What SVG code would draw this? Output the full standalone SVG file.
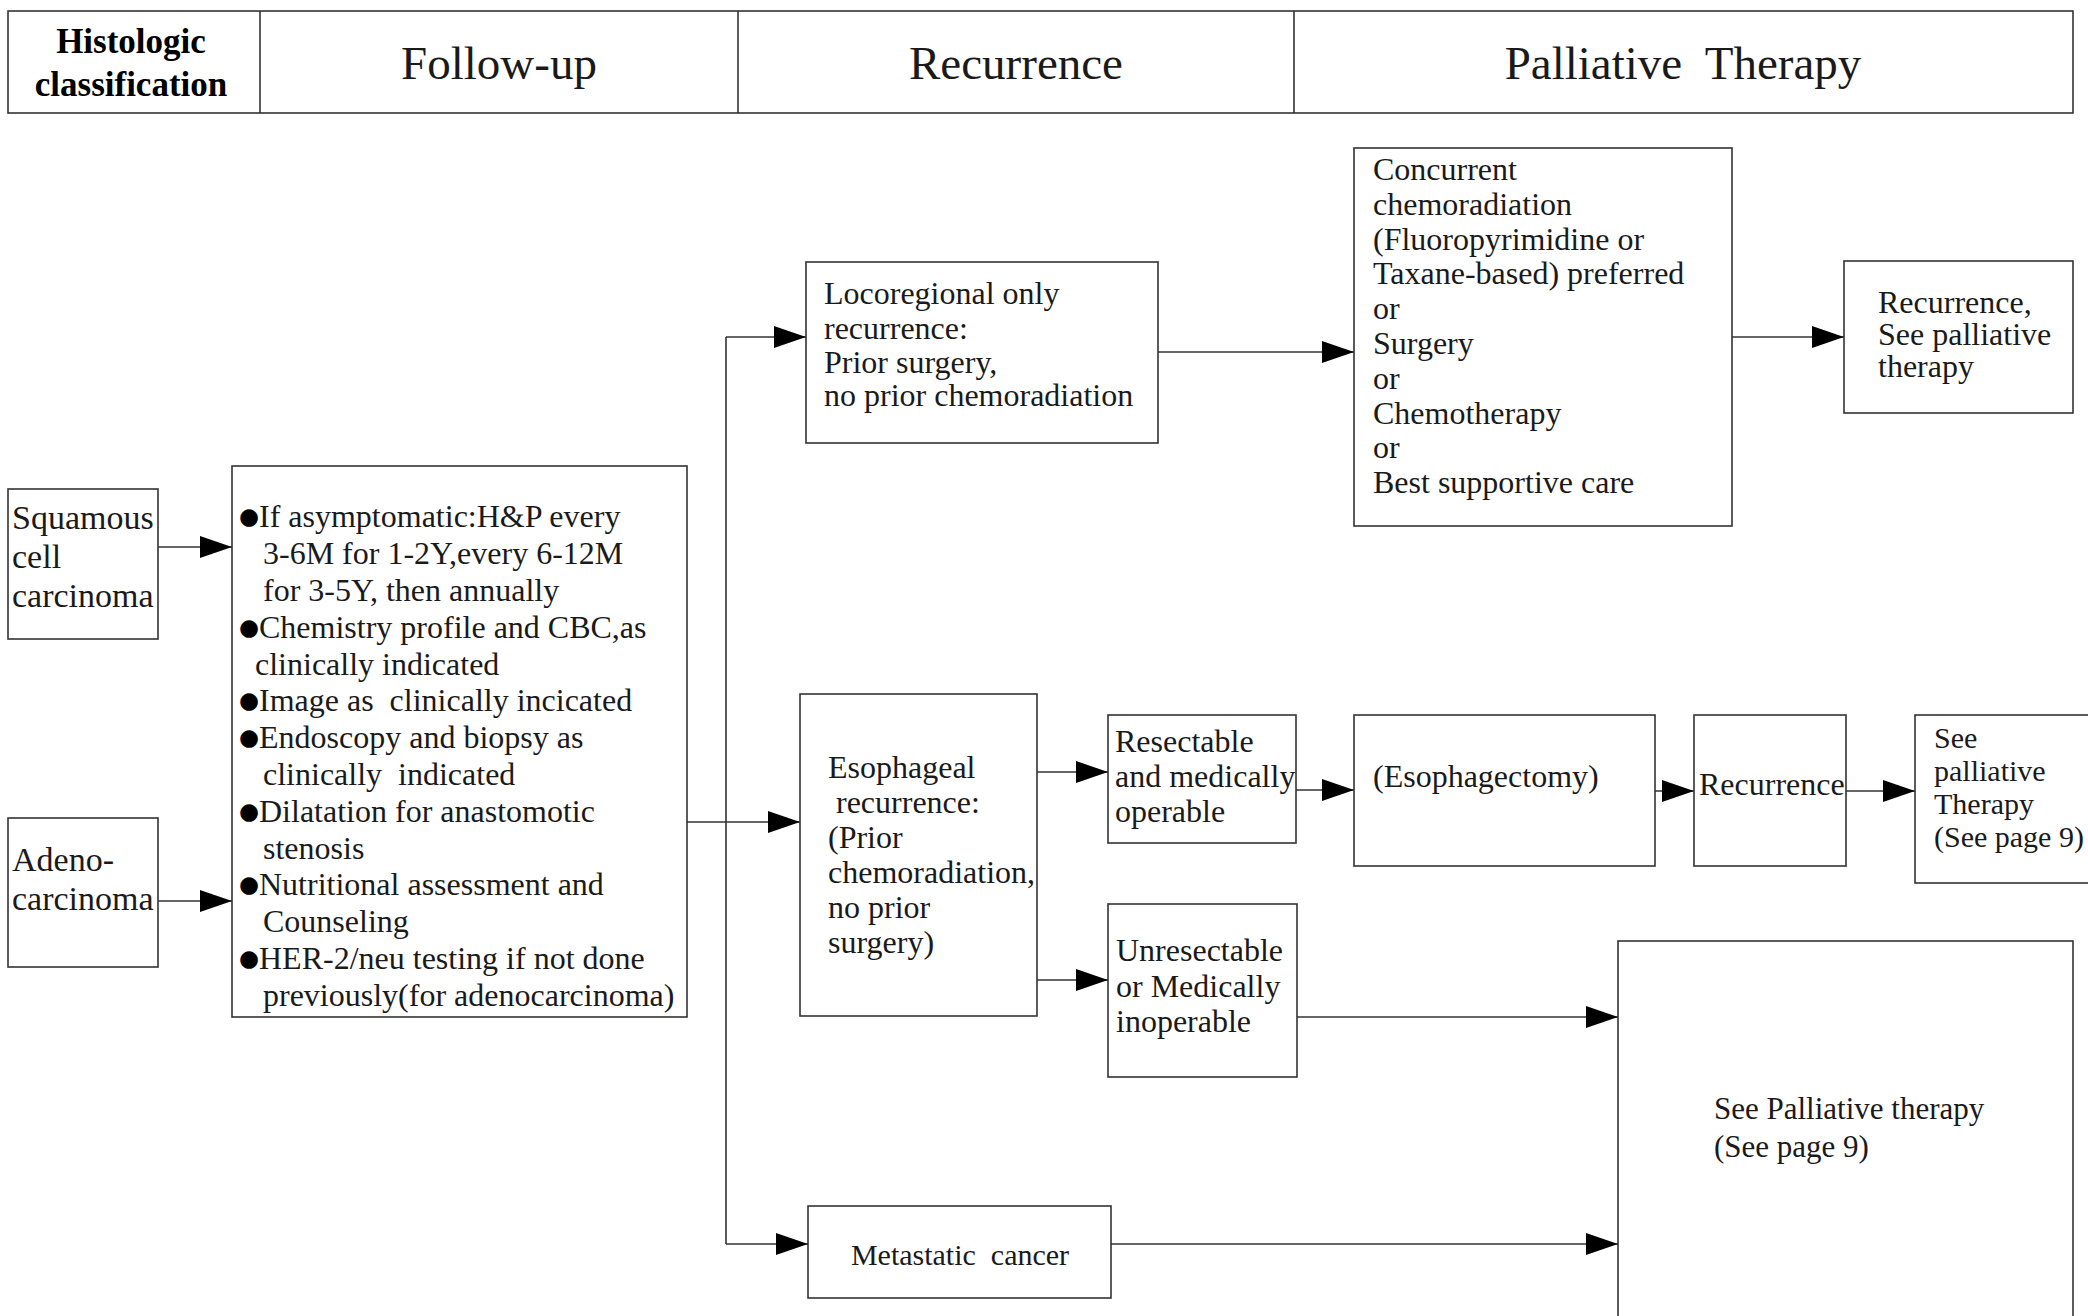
<svg xmlns="http://www.w3.org/2000/svg" width="2088" height="1316" viewBox="0 0 2088 1316">
<style>
  .box { fill: #fff; stroke: #333; stroke-width: 1.6; }
  .t { font-family: "Liberation Serif", "Times New Roman", serif; font-size: 32px; fill: #1a1a1a; }
  .h { font-family: "Liberation Serif", "Times New Roman", serif; font-size: 47px; fill: #1a1a1a; text-anchor: middle; }
  .hb { font-family: "Liberation Serif", "Times New Roman", serif; font-size: 35px; font-weight: bold; fill: #000; text-anchor: middle; }
  .b { font-family: "DejaVu Sans", sans-serif; font-size: 23px; fill: #000; }
  .c { fill: none; stroke: #333; stroke-width: 1.6; }
</style>
<defs>
  <marker id="ah" markerUnits="userSpaceOnUse" markerWidth="34" markerHeight="24" refX="32" refY="11" orient="auto">
    <path d="M0,0 L32,11 L0,22 z" fill="#000"/>
  </marker>
</defs>
<rect width="2088" height="1316" fill="#fff"/>

<g id="header">
  <rect class="box" x="8" y="11" width="2065" height="102"/>
  <line class="c" x1="260" y1="11" x2="260" y2="113"/>
  <line class="c" x1="738" y1="11" x2="738" y2="113"/>
  <line class="c" x1="1294" y1="11" x2="1294" y2="113"/>
  <text class="hb" x="131" y="53">Histologic</text>
  <text class="hb" x="131" y="96">classification</text>
  <text class="h" x="499" y="79">Follow-up</text>
  <text class="h" x="1016" y="79">Recurrence</text>
  <text class="h" x="1683" y="79" xml:space="preserve">Palliative  Therapy</text>
</g>

<g id="squamous">
  <rect class="box" x="8" y="489" width="150" height="150"/>
  <text class="t" x="12" y="529" style="font-size:34px">Squamous</text>
  <text class="t" x="12" y="568" style="font-size:34px">cell</text>
  <text class="t" x="12" y="607" style="font-size:34px">carcinoma</text>
</g>

<g id="adeno">
  <rect class="box" x="8" y="818" width="150" height="149"/>
  <text class="t" x="12" y="871" style="font-size:34px">Adeno-</text>
  <text class="t" x="12" y="910" style="font-size:34px">carcinoma</text>
</g>

<g id="followup">
  <rect class="box" x="232" y="466" width="455" height="551"/>
  <text class="b" x="239" y="524">●</text>
  <text class="t" x="259" y="527">If asymptomatic:H&amp;P every</text>
  <text class="t" x="263" y="564">3-6M for 1-2Y,every 6-12M</text>
  <text class="t" x="263" y="601">for 3-5Y, then annually</text>
  <text class="b" x="239" y="635">●</text>
  <text class="t" x="259" y="638">Chemistry profile and CBC,as</text>
  <text class="t" x="255" y="675">clinically indicated</text>
  <text class="b" x="239" y="708">●</text>
  <text class="t" x="259" y="711" xml:space="preserve">Image as  clinically incicated</text>
  <text class="b" x="239" y="745">●</text>
  <text class="t" x="259" y="748">Endoscopy and biopsy as</text>
  <text class="t" x="263" y="785" xml:space="preserve">clinically  indicated</text>
  <text class="b" x="239" y="819">●</text>
  <text class="t" x="259" y="822">Dilatation for anastomotic</text>
  <text class="t" x="263" y="859">stenosis</text>
  <text class="b" x="239" y="892">●</text>
  <text class="t" x="259" y="895">Nutritional assessment and</text>
  <text class="t" x="263" y="932">Counseling</text>
  <text class="b" x="239" y="966">●</text>
  <text class="t" x="259" y="969">HER-2/neu testing if not done</text>
  <text class="t" x="263" y="1006">previously(for adenocarcinoma)</text>
</g>

<g id="locoregional">
  <rect class="box" x="806" y="262" width="352" height="181"/>
  <text class="t" x="824" y="304">Locoregional only</text>
  <text class="t" x="824" y="339">recurrence:</text>
  <text class="t" x="824" y="373">Prior surgery,</text>
  <text class="t" x="824" y="406">no prior chemoradiation</text>
</g>

<g id="concurrent">
  <rect class="box" x="1354" y="148" width="378" height="378"/>
  <text class="t" x="1373" y="180">Concurrent</text>
  <text class="t" x="1373" y="215">chemoradiation</text>
  <text class="t" x="1373" y="250">(Fluoropyrimidine or</text>
  <text class="t" x="1373" y="284">Taxane-based) preferred</text>
  <text class="t" x="1373" y="319">or</text>
  <text class="t" x="1373" y="354">Surgery</text>
  <text class="t" x="1373" y="389">or</text>
  <text class="t" x="1373" y="424">Chemotherapy</text>
  <text class="t" x="1373" y="458">or</text>
  <text class="t" x="1373" y="493">Best supportive care</text>
</g>

<g id="recurrence1">
  <rect class="box" x="1844" y="261" width="229" height="152"/>
  <text class="t" x="1878" y="313">Recurrence,</text>
  <text class="t" x="1878" y="345">See palliative</text>
  <text class="t" x="1878" y="377">therapy</text>
</g>

<g id="esophageal">
  <rect class="box" x="800" y="694" width="237" height="322"/>
  <text class="t" x="828" y="778">Esophageal</text>
  <text class="t" x="828" y="813" xml:space="preserve"> recurrence:</text>
  <text class="t" x="828" y="848">(Prior</text>
  <text class="t" x="828" y="883">chemoradiation,</text>
  <text class="t" x="828" y="918">no prior</text>
  <text class="t" x="828" y="953">surgery)</text>
</g>

<g id="resectable">
  <rect class="box" x="1108" y="715" width="188" height="128"/>
  <text class="t" x="1115" y="752">Resectable</text>
  <text class="t" x="1115" y="787">and medically</text>
  <text class="t" x="1115" y="822">operable</text>
</g>

<g id="unresectable">
  <rect class="box" x="1108" y="904" width="189" height="173"/>
  <text class="t" x="1116" y="961">Unresectable</text>
  <text class="t" x="1116" y="997">or Medically</text>
  <text class="t" x="1116" y="1032">inoperable</text>
</g>

<g id="esophagectomy">
  <rect class="box" x="1354" y="715" width="301" height="151"/>
  <text class="t" x="1373" y="787">(Esophagectomy)</text>
</g>

<g id="recurrence2">
  <rect class="box" x="1694" y="715" width="152" height="151"/>
  <text class="t" x="1699" y="795">Recurrence</text>
</g>

<g id="seepalliative">
  <rect class="box" x="1915" y="715" width="180" height="168"/>
  <text class="t" x="1934" y="748" style="font-size:30px">See</text>
  <text class="t" x="1934" y="781" style="font-size:30px">palliative</text>
  <text class="t" x="1934" y="814" style="font-size:30px">Therapy</text>
  <text class="t" x="1934" y="847" style="font-size:30px">(See page 9)</text>
</g>

<g id="palliativebig">
  <rect class="box" x="1618" y="941" width="455" height="400"/>
  <text class="t" x="1714" y="1119" style="font-size:31px">See Palliative therapy</text>
  <text class="t" x="1714" y="1157" style="font-size:31px">(See page 9)</text>
</g>

<g id="metastatic">
  <rect class="box" x="808" y="1206" width="303" height="92"/>
  <text class="t" x="960" y="1265" text-anchor="middle" style="font-size:30px" xml:space="preserve">Metastatic  cancer</text>
</g>

<g id="connectors">
  <path class="c" d="M158,547 H232" marker-end="url(#ah)"/>
  <path class="c" d="M158,901 H232" marker-end="url(#ah)"/>
  <path class="c" d="M687,822 H800" marker-end="url(#ah)"/>
  <path class="c" d="M726,337 V1244"/>
  <path class="c" d="M726,337 H806" marker-end="url(#ah)"/>
  <path class="c" d="M726,1244 H808" marker-end="url(#ah)"/>
  <path class="c" d="M1158,352 H1354" marker-end="url(#ah)"/>
  <path class="c" d="M1732,337 H1844" marker-end="url(#ah)"/>
  <path class="c" d="M1037,772 H1108" marker-end="url(#ah)"/>
  <path class="c" d="M1037,980 H1108" marker-end="url(#ah)"/>
  <path class="c" d="M1296,790 H1354" marker-end="url(#ah)"/>
  <path class="c" d="M1655,791 H1694" marker-end="url(#ah)"/>
  <path class="c" d="M1846,791 H1915" marker-end="url(#ah)"/>
  <path class="c" d="M1297,1017 H1618" marker-end="url(#ah)"/>
  <path class="c" d="M1111,1244 H1618" marker-end="url(#ah)"/>
</g>
</svg>
